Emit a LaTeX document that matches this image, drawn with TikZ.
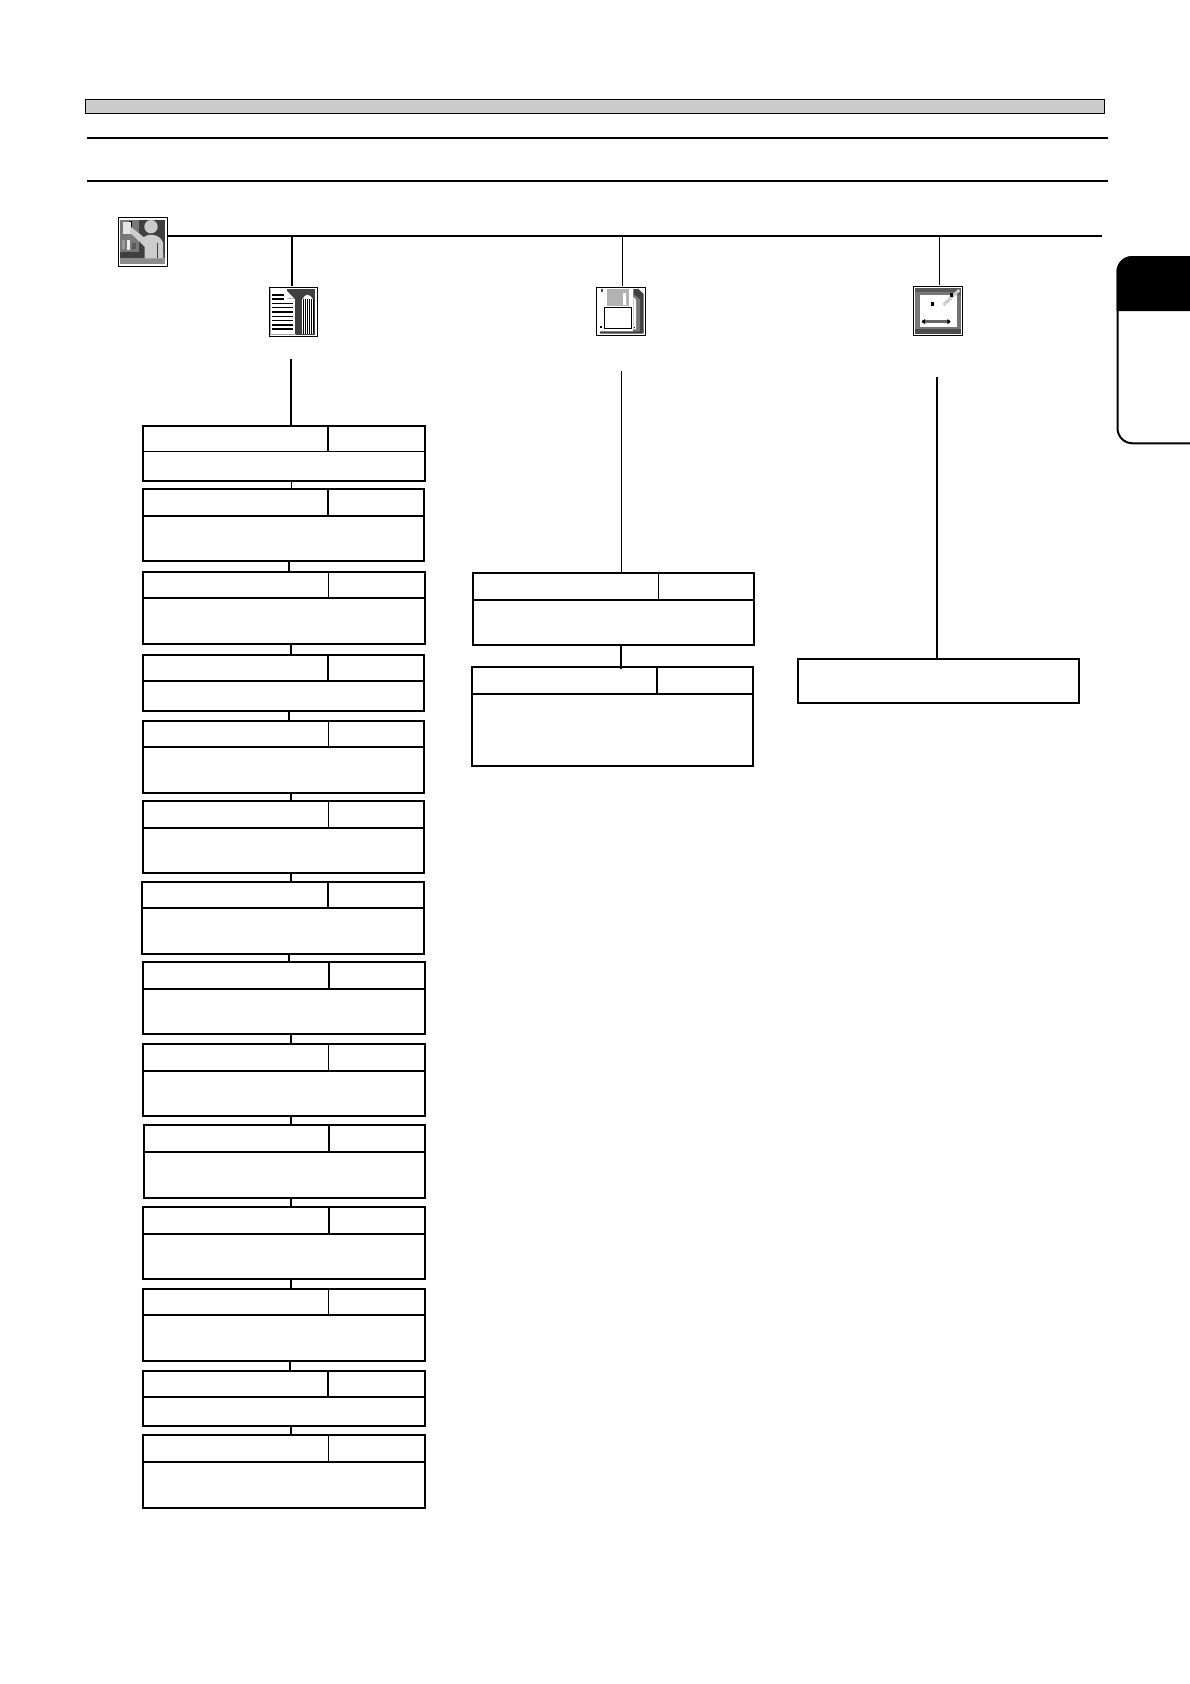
\documentclass[tikz,border=0pt]{standalone}
\usetikzlibrary{calc}
\definecolor{barg}{HTML}{CCCCCC}
\definecolor{dk}{HTML}{404040}
\definecolor{md}{HTML}{787878}
\definecolor{lt}{HTML}{CCCCCC}
\tikzset{
  boxn/.style={draw=black,line width=2pt,fill=white,inner sep=0pt,outer sep=0pt,shape=rectangle},
  rule/.style={line width=2pt,draw=black},
  conn/.style={line width=2pt,draw=black},
  thinconn/.style={line width=1.2pt,draw=black},
  iconframe/.style={draw=black,line width=1pt,fill=white,inner sep=0pt,outer sep=0pt,shape=rectangle},
  zoomed/.style={x=0.33333pt,y=-0.33333pt}
}
% name, left, top, right, bottom, split x, split y, width of vertical split, width of horizontal split
\newcommand{\splitbox}[9]{%
  \pgfmathsetmacro{\bw}{#4-#2}\pgfmathsetmacro{\bh}{#5-#3}%
  \pgfmathsetmacro{\cx}{(#2+#4)/2}\pgfmathsetmacro{\cy}{(#3+#5)/2}%
  \node[boxn,minimum width=\bw pt,minimum height=\bh pt] (#1) at (\cx,\cy) {};
  \draw[line width=#9pt] (#2,#7) -- (#4,#7);
  \draw[line width=#8pt] (#6,#3) -- (#6,#7);
}
\begin{document}
\begin{tikzpicture}[x=1pt,y=-1pt]
\useasboundingbox (0,0) rectangle (1190,1684);

% header
\node[draw=black,line width=1.3pt,fill=barg,inner sep=0pt,outer sep=0pt,minimum width=1019.4pt,minimum height=13.6pt] (bar) at (595,106.5) {};
\coordinate (ra) at (87,138);\coordinate (rb) at (1108,138);
\coordinate (rc) at (87,180.7);\coordinate (rd) at (1108,180.7);
\draw[rule] (ra) -- (rb);
\draw[rule] (rc) -- (rd);

% tab
\draw[line width=2pt,rounded corners=15pt] (1196,257) -- (1117.5,257) -- (1117.5,443.3) -- (1196,443.3);
\fill[black] (1116.5,311) -- (1116.5,272) .. controls (1116.5,263) and (1123,256) .. (1133,256) -- (1192,256) -- (1192,311) -- cycle;

% icons as frames
\node[iconframe,minimum width=49.3pt,minimum height=49pt] (icA) at (143,241.5) {};
\node[iconframe,minimum width=48pt,minimum height=49pt] (icB) at (293,311.5) {};
\node[iconframe,minimum width=49.7pt,minimum height=48.3pt] (icC) at (621,311.5) {};
\node[iconframe,minimum width=49.7pt,minimum height=49.3pt] (icD) at (938,310.7) {};

% presenter icon
\begin{scope}[shift={(100pt,-200pt)},zoomed]
  \fill[dk] (60,60) rectangle (195,192);
  \fill[md] (60,60) rectangle (118,155);
  \fill[black] (86,62) rectangle (96,90);
  \fill[black!10] (68,65) rectangle (92,103);
  \fill[black!40] (66,120) rectangle (76,148);
  \fill[black!7] (80,120) rectangle (90,150);
  \fill[black!65] (95,130) rectangle (108,148);
  \fill[black!45] (60,175) rectangle (195,192);
  \fill[lt] (153,80) circle[radius=6.7pt];
  \fill[lt] (92,80) -- (132,112) .. controls (142,100) and (180,100) .. (189,128) -- (190,175) -- (134,175) -- (134,140) -- (90,98) -- cycle;
  \fill[dk] (170,130) rectangle (175,175);
\end{scope}

% document icon
\begin{scope}[shift={(100pt,-200pt)},zoomed]
  \fill[dk] (585,268) rectangle (645,404);
  \fill[dk] (560,268) rectangle (585,296);
  \fill[white] (558,270) -- (584,296) -- (558,296) -- cycle;
  \fill[black!35] (510,268) rectangle (513,404);
  \fill[black!35] (510,402) rectangle (587,405);
  \fill[black] (516,282) rectangle (552,288);
  \fill[black] (516,294) rectangle (552,300);
  \fill[black] (516,309) rectangle (578,311);
  \fill[black] (516,321) rectangle (578,323);
  \fill[black] (516,333) rectangle (578,338);
  \fill[black] (516,347) rectangle (578,349);
  \fill[black] (516,360) rectangle (578,362);
  \fill[black] (516,372) rectangle (578,378);
  \fill[black] (516,385) rectangle (578,391);
  \fill[white] (607,298) .. controls (610,290) and (618,284) .. (622,284) .. controls (628,284) and (636,290) .. (639,298) -- cycle;
  \fill[white] (605,298) rectangle (641,401);
  \foreach \sx in {608,614,620,626,632,638}
    \fill[black] (\sx,298) rectangle ++(2,103);
\end{scope}

% disk icon
\begin{scope}[shift={(580pt,-270pt)},zoomed]
  \fill[dk] (160,57) -- (175,57) -- (191,72) -- (191,191) -- (60,191) -- (60,184) -- (160,184) -- cycle;
  \fill[md] (160,72) -- (180,88) -- (180,184) -- (160,184) -- cycle;
  \fill[white] (160,80) -- (168,90) -- (168,178) -- (160,178) -- cycle;
  \fill[black!30] (82,57) rectangle (148,108);
  \fill[white] (128,70) rectangle (138,105);
  \fill[black!70] (62,58) rectangle (68,66);
  \fill[black] (60,168) rectangle (66,174);
  \fill[black] (162,170) rectangle (165,175);
  \draw[line width=1pt,fill=white] (73,112) rectangle (155,176);
\end{scope}

% size icon
\begin{scope}[shift={(900pt,-270pt)},zoomed]
  \fill[black!65] (45,55) rectangle (183,191);
  \fill[md] (45,65) rectangle (170,178);
  \fill[black!70] (45,178) rectangle (183,191);
  \fill[white] (60,75) rectangle (170,172);
  \fill[black!55] (170,75) rectangle (183,178);
  \fill[black!60] (65,150) rectangle (150,160);
  \draw[black!20,line width=3pt] (130,105) -- (178,60);
  \fill[black] (93,95) rectangle (102,107);
  \fill[black] (150,70) rectangle (160,80);
  \fill[black] (65,155) -- (75,147) -- (75,163) -- cycle;
  \fill[black] (152,155) -- (142,147) -- (142,163) -- cycle;
\end{scope}

% left column
\splitbox{b1}{143}{426}{425}{481}{328}{451}{2}{1}
\splitbox{b2}{143}{489}{424}{561}{328}{516}{2}{2}
\splitbox{b3}{143}{572}{425}{644}{328.7}{598}{1}{2}
\splitbox{b4}{142.7}{655}{424.3}{711}{328}{680.7}{2}{2}
\splitbox{b5}{143}{721}{424.3}{792.7}{328.7}{747}{1}{2}
\splitbox{b6}{143}{801}{424.3}{872.7}{328.7}{827.7}{1}{2}
\splitbox{b7}{142}{881.7}{424}{953.7}{328}{907.7}{2}{2}
\splitbox{b8}{142.7}{962}{425}{1033.7}{329}{988.7}{2}{2}
\splitbox{b9}{143}{1044}{424.7}{1115.7}{328.7}{1070.7}{1}{2}
\splitbox{b10}{144}{1124.7}{425}{1197.7}{329}{1151.7}{2}{2}
\splitbox{b11}{142.7}{1207}{425}{1278.7}{329}{1233.7}{2}{2}
\splitbox{b12}{143}{1289}{424.7}{1360.7}{328.7}{1314.7}{1}{2}
\splitbox{b13}{143}{1371}{424.7}{1425.7}{328}{1396.7}{2}{2}
\splitbox{b14}{143}{1435}{424.7}{1508}{328.7}{1461.7}{1}{2}

% middle column
\splitbox{mA}{473}{573}{754.3}{644.7}{658.7}{599.7}{1}{2}
\splitbox{mB}{472}{667}{753}{765.7}{657}{693.7}{2}{2}

% right column
\node[boxn,minimum width=281.3pt,minimum height=43.7pt] (rA) at (938.35,680.85) {};

% connector rails
\coordinate (xa) at (291.3,0);
\coordinate (xb) at (289,0);
\coordinate (xc) at (290.3,0);
\coordinate (xm) at (621.3,0);

% main bus
\coordinate (busend) at (1102,235.7);
\draw[conn] (icA.east |- busend) -- (busend);
\draw[conn] (292,235.7) -- (292,286);
\draw[thinconn] (622.3,235.7) -- (622.3,286);
\draw[thinconn] (939.3,235.7) -- (939.3,285);

% descents
\coordinate (dA) at (291,359);
\coordinate (dB) at (621.7,371);
\coordinate (dC) at (937,377);
\draw[conn] (dA) -- (dA |- b1.north);
\draw[thinconn] (dB) -- (dB |- mA.north);
\draw[conn] (dC) -- (dC |- rA.north);

% connectors between boxes
\draw[thinconn] (b1.south -| xa) -- (b2.north -| xa);
\draw[conn] (b2.south -| xb) -- (b3.north -| xb);
\draw[conn] (b3.south -| xa) -- (b4.north -| xa);
\draw[conn] (b4.south -| xb) -- (b5.north -| xb);
\draw[conn] (b5.south -| xa) -- (b6.north -| xa);
\draw[conn] (b6.south -| xa) -- (b7.north -| xa);
\draw[conn] (b7.south -| xb) -- (b8.north -| xb);
\draw[conn] (b8.south -| xa) -- (b9.north -| xa);
\draw[conn] (b9.south -| xa) -- (b10.north -| xa);
\draw[conn] (b10.south -| xa) -- (b11.north -| xa);
\draw[conn] (b11.south -| xa) -- (b12.north -| xa);
\draw[conn] (b12.south -| xc) -- (b13.north -| xc);
\draw[conn] (b13.south -| xa) -- (b14.north -| xa);
\draw[conn] (mA.south -| xm) -- ([yshift=-1.7pt]mB.north -| xm);
\end{tikzpicture}
\end{document}
